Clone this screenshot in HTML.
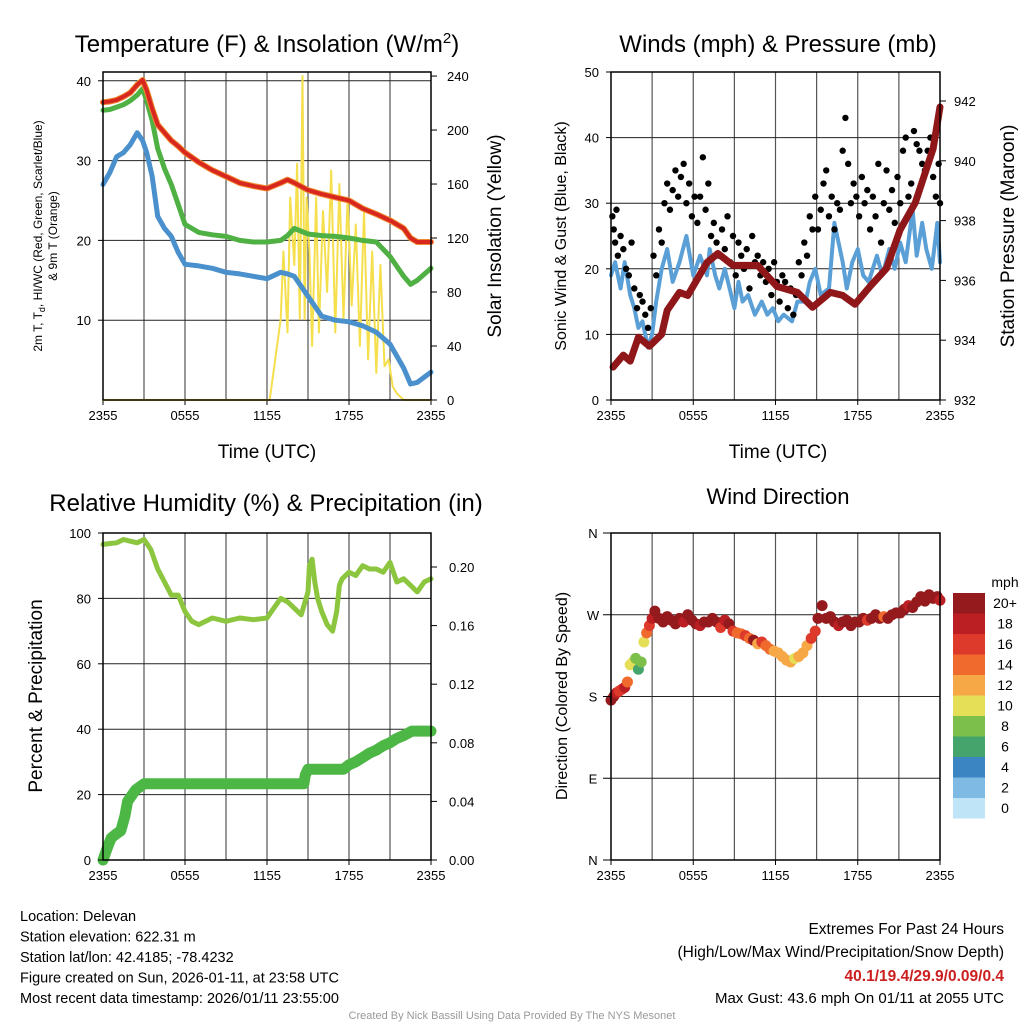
<!DOCTYPE html>
<html><head><meta charset="utf-8"><style>
html,body{margin:0;padding:0;background:#fff;}
svg{display:block;font-family:"Liberation Sans",sans-serif;}
</style></head><body>
<svg id="s" width="1024" height="1024" viewBox="0 0 1024 1024"></svg>
<script>
// ---- data ----
const xTicks = ["2355","0555","1155","1755","2355"];
// Temperature panel
const tT = [0,0.5,1,1.5,2,2.5,2.9,3.2,3.6,4,4.5,5,5.5,6,7,8,9,10,11,12,13,13.5,14,15,16,17,18,19,20,21,22,22.5,23,24];
const tempRed = [37.3,37.4,37.6,38,38.5,39.5,40.1,38.8,36.5,34.5,33.5,32.5,31.8,31,29.8,28.8,28,27.2,26.8,26.5,27.2,27.6,27.2,26.3,25.8,25.4,25,24,23.3,22.5,21.5,20.3,19.8,19.8];
const tempGreen = [36.3,36.4,36.7,37,37.5,38.2,39,37.5,35,31.5,29,27,24.5,22,21,20.7,20.5,20,19.8,19.8,20,20.6,21.5,20.8,20.6,20.5,20.3,20,19.8,18,15.5,14.5,15,16.5];
const tempBlue = [27,28.5,30.5,31,32,33.5,32.5,31,28,23,21.5,20.5,18.5,17,16.8,16.5,16,15.8,15.5,15.2,16,15.8,15.5,13,10.5,10,9.8,9.3,8.5,7,4,2,2.2,3.5];
const tS = [0,12.2,12.6,13,13.2,13.5,13.7,14,14.2,14.4,14.6,14.75,14.9,15.1,15.3,15.6,15.8,16.1,16.4,16.7,17,17.3,17.6,17.9,18.2,18.5,18.8,19.1,19.4,19.7,20,20.3,20.6,20.9,21.2,21.5,22,24];
const solar = [0,0,30,60,110,50,150,100,175,60,240,60,150,110,40,150,50,140,80,170,50,160,60,150,70,130,40,140,30,110,20,100,25,30,10,5,0,0];
const tempLeftTicks = [10,20,30,40];
const solarTicks = [0,40,80,120,160,200,240];
// Wind panel
const tW = [0,0.3,0.7,1,1.4,1.7,2,2.3,2.7,3,3.3,3.7,4.1,4.5,5,5.5,6,6.5,7,7.2,7.6,7.9,8.3,9,9.3,9.6,10,10.5,11,11.4,11.8,12.2,12.6,13.2,13.6,14.2,14.5,14.9,15.3,15.9,16.3,16.9,17.2,17.6,18,18.4,18.8,19.4,19.8,20.3,20.7,21.1,21.5,22,22.3,22.7,23,23.4,23.8,24];
const windAvg = [19,21,17,21,16,14,11,12,8,10,15,20,23,18,21,25,19,22,19,23,19,17,20,14,18,15,16,13,15,13,14,12,13,12,15,15,18,20,16,17,27,21,17,21,23,19,18,22,19,23,20,24,21,29,22,27,23,20,27,21];
const tG = [0.1,0.2,0.3,0.4,0.5,0.7,0.9,1.1,1.3,1.5,1.7,1.9,2.1,2.3,2.5,2.7,2.9,3.1,3.3,3.5,3.7,3.9,4.1,4.3,4.5,4.7,4.9,5.1,5.3,5.5,5.7,5.9,6.1,6.3,6.5,6.7,6.9,7.1,7.3,7.5,7.7,7.9,8.1,8.3,8.5,8.7,8.9,9.1,9.3,9.5,9.7,9.9,10.1,10.3,10.5,10.7,10.9,11.1,11.3,11.5,11.7,11.9,12.1,12.3,12.5,12.7,12.9,13.1,13.3,13.5,13.7,13.9,14.1,14.3,14.5,14.7,14.9,15.1,15.3,15.5,15.7,15.9,16.1,16.3,16.5,16.7,16.9,17.1,17.3,17.5,17.7,17.9,18.1,18.3,18.5,18.7,18.9,19.1,19.3,19.5,19.7,19.9,20.1,20.3,20.5,20.7,20.9,21.1,21.3,21.5,21.7,21.9,22.1,22.3,22.5,22.7,22.9,23.1,23.3,23.5,23.7,23.9,24];
const gust = [28,26,24,29,22,25,23,20,19,24,17,14,16,15,13,11,14,22,19,26,24,30,33,29,32,35,31,34,36,30,33,28,31,27,31,37,29,33,25,27,24,22,26,23,28,21,25,19,24,22,20,23,17,25,21,22,19,21,18,20,16,21,18,15,19,18,14,17,13,16,21,19,24,22,28,26,31,26,29,33,35,28,31,26,30,29,38,43,36,30,33,31,28,34,30,32,26,31,28,36,24,30,35,29,32,27,34,30,38,40,31,33,41,39,38,36,35,38,40,34,31,36,30,28,24];
const tP = [0.15,0.9,1.4,2.0,2.8,3.7,4.1,5.0,5.6,7.0,7.8,8.9,10.7,12.1,13.6,14.7,16.0,16.9,17.8,18.9,20.1,21.1,22.2,23.5,24];
const pressure = [933.1,933.5,933.3,934.1,933.8,934.2,935.0,935.6,935.5,936.6,936.9,936.5,936.5,935.8,935.6,935.1,935.6,935.5,935.2,935.8,936.4,937.7,938.6,940.4,941.8];
const windTicks = [0,10,20,30,40,50];
const presTicks = [932,934,936,938,940,942];
// RH / precip panel
const tR = [0,0.5,1,1.5,2,2.5,3,3.5,4,4.5,5,5.5,6,6.5,7,8,9,10,11,12,12.5,13,13.5,14,14.5,15,15.1,15.3,15.5,15.7,16,16.4,16.8,17.1,17.3,17.5,18,18.5,19,19.5,20,20.5,21,21.5,22,22.5,23,23.5,24];
const rh = [96.5,96.8,97,98,97.5,97,98,95,89,85,81,81,76,73,72,74,73,74,73.5,74,77,80,79,77,75,82,90,92,85,80,76,72,70,76,84,86,88,87,90,89,89,88,91,85,86,84,82,85,86];
const tPr = [0,0.3,0.6,1,1.3,1.6,1.8,2.1,2.4,2.7,3,14.7,14.8,15,17.6,18,18.5,19,19.5,20,20.5,21,21.5,22,22.6,24];
const precip = [0,0.008,0.015,0.018,0.02,0.03,0.04,0.044,0.048,0.05,0.052,0.052,0.058,0.062,0.062,0.065,0.067,0.07,0.073,0.075,0.078,0.08,0.083,0.085,0.088,0.088];
const rhTicks = [0,20,40,60,80,100];
const prTicks = ["0.00","0.04","0.08","0.12","0.16","0.20"];
// Wind direction panel
const tD = [0,0.2,0.4,0.6,0.8,1,1.2,1.4,1.6,1.8,2,2.2,2.4,2.6,2.8,3,3.2,3.5,3.8,4.1,4.4,4.7,5,5.3,5.6,5.9,6.2,6.5,6.8,7.1,7.4,7.7,8,8.3,8.6,8.9,9.2,9.5,9.8,10.1,10.4,10.7,11,11.3,11.6,11.9,12.2,12.5,12.8,13.1,13.4,13.7,14,14.3,14.6,14.9,15.1,15.4,15.7,16,16.3,16.6,16.9,17.2,17.5,17.8,18.1,18.4,18.7,19,19.3,19.6,19.9,20.2,20.5,20.8,21.1,21.4,21.7,22,22.3,22.6,22.9,23.2,23.5,23.8,24];
const dirDeg = [176,180,184,186,188,190,196,215,218,222,210,218,240,250,258,266,274,266,262,268,264,260,266,262,270,264,260,258,262,262,266,262,256,264,260,252,250,249,247,244,242,238,240,236,232,230,228,224,220,218,222,224,228,236,244,252,266,280,266,268,262,258,262,264,258,262,262,266,264,266,270,266,268,266,270,272,272,276,280,278,284,290,285,292,288,290,286];
const dirSpeed = [20,20,18,16,16,18,14,10,10,8,7,9,10,14,16,18,20,20,20,20,20,20,20,18,20,20,20,18,20,20,20,20,16,18,20,16,14,14,16,14,20,12,16,14,14,12,12,13,12,13,10,12,13,13,16,16,20,20,20,20,20,18,20,20,20,20,20,20,16,20,20,20,15,20,20,20,20,20,18,20,20,20,20,20,20,20,18];
const cbLabels = ["20+","18","16","14","12","10","8","6","4","2","0"];
const cbColors = ["#951a1d","#bb1f24","#dd3a2b","#ef6a2c","#f6a847","#e5df58","#7cbf4a","#45a46c","#3b86c2","#7ebae4","#bfe3f7"];

// ---- drawing ----
const NS="http://www.w3.org/2000/svg";
const svg=document.getElementById('s');
function el(tag,attrs,parent){const e=document.createElementNS(NS,tag);for(const k in attrs)e.setAttribute(k,attrs[k]);(parent||svg).appendChild(e);return e;}
function txt(x,y,s,size,anchor,parent,extra){const t=el('text',Object.assign({x:x,y:y,'font-size':size,'text-anchor':anchor||'middle',fill:'#000'},extra||{}),parent);t.textContent=s;return t;}
function lin(d0,d1,r0,r1){return v=>r0+(v-d0)/(d1-d0)*(r1-r0);}
function polyline(xs,ys,fx,fy,color,w,parent){let p=xs.map((x,i)=>fx(x).toFixed(1)+','+fy(ys[i]).toFixed(1)).join(' ');return el('polyline',{points:p,fill:'none',stroke:color,'stroke-width':w,'stroke-linejoin':'round','stroke-linecap':'round'},parent);}

function frame(x0,y0,x1,y1,hGrid,fy,name){
  const g=el('g',{});
  
  
  for(let h=3;h<24;h+=3){const x=x0+(x1-x0)*h/24;el('line',{x1:x,y1:y0,x2:x,y2:y1,stroke:'#555','stroke-width':1.2},g);}
  hGrid.forEach(v=>{const y=fy(v);el('line',{x1:x0,y1:y,x2:x1,y2:y,stroke:'#222','stroke-width':1},g);});
  xTicks.forEach((s,i)=>{const x=x0+(x1-x0)*i/4;el('line',{x1:x,y1:y1,x2:x,y2:y1+5,stroke:'#000'},g);txt(x,y1+20,s,13,'middle',g);});
  return g;
}
function border(x0,y0,x1,y1,name){const r=el('rect',{x:x0,y:y0,width:x1-x0,height:y1-y0,fill:'none',stroke:'#000','stroke-width':1.5});}

// Panel 1
(function(){
  const X0=103,X1=431,Y0=72,Y1=400;
  const fx=lin(0,24,X0,X1), fy=lin(0,41.1,Y1,Y0), fs=lin(0,243,Y1,Y0);
  frame(X0,Y0,X1,Y1,tempLeftTicks,fy,'temp');
  const g=el('g',{});
  
  
  const ys=polyline(tS,solar,fx,fs,'#f5df4d',2,g);
  
  const b=polyline(tT,tempBlue,fx,fy,'#4a90cc',5,g);
  
  const gr=polyline(tT,tempGreen,fx,fy,'#4fb043',5,g);
  
  const o=polyline(tT,tempRed,fx,fy,'#f08a30',6,g);
  
  const r=polyline(tT,tempRed,fx,fy,'#d8271f',4,g);
  
  border(X0,Y0,X1,Y1,'temp');
  tempLeftTicks.forEach(v=>{txt(X0-12,fy(v)+5,String(v),13,'end');el('line',{x1:X0-5,y1:fy(v),x2:X0,y2:fy(v),stroke:'#000'});});
  solarTicks.forEach(v=>{txt(X1+16,fs(v)+5,String(v),13,'start');el('line',{x1:X1,y1:fs(v),x2:X1+6,y2:fs(v),stroke:'#000'});});
  const t=txt(267,52,'',24);t.innerHTML='Temperature (F) &amp; Insolation (W/m<tspan dy="-9" font-size="15">2</tspan><tspan dy="9">)</tspan>';
  
  const xl=txt(267,458,'Time (UTC)',19);
  const yl=el('text',{transform:'translate(42,236) rotate(-90)','font-size':12,'text-anchor':'middle'});yl.innerHTML='2m T, T<tspan dy="3" font-size="9">d</tspan><tspan dy="-3">, HI/WC (Red, Green, Scarlet/Blue)</tspan>';
  
  const y2=el('text',{transform:'translate(57,236) rotate(-90)','font-size':12,'text-anchor':'middle'});y2.textContent='& 9m T (Orange)';
  
  const yr=el('text',{transform:'translate(501,236) rotate(-90)','font-size':19,'text-anchor':'middle'});yr.textContent='Solar Insolation (Yellow)';
  
})();

// Panel 2
(function(){
  const X0=611,X1=940,Y0=72,Y1=400;
  const fx=lin(0,24,X0,X1), fy=lin(0,50,Y1,Y0), fp=lin(932,942,Y1,101);
  frame(X0,Y0,X1,Y1,windTicks,fy,'wind');
  const g=el('g',{});
  
  
  const w=polyline(tW,windAvg,fx,fy,'#5a9fd6',4,g);
  
  tG.forEach((t,i)=>{const c=el('circle',{cx:fx(t),cy:fy(gust[i]),r:3.2,fill:'#000'},g);
    
  });
  const p=polyline(tP,pressure,fx,fp,'#8f1719',7,g);
  
  border(X0,Y0,X1,Y1,'wind');
  windTicks.forEach(v=>{txt(X0-12,fy(v)+5,String(v),13,'end');el('line',{x1:X0-5,y1:fy(v),x2:X0,y2:fy(v),stroke:'#000'});});
  presTicks.forEach(v=>{txt(X1+14,fp(v)+5,String(v),13,'start');el('line',{x1:X1,y1:fp(v),x2:X1+6,y2:fp(v),stroke:'#000'});});
  const t=txt(778,52,'Winds (mph) & Pressure (mb)',24);
  const xl=txt(778,458,'Time (UTC)',19);
  const yl=el('text',{transform:'translate(566,236) rotate(-90)','font-size':16,'text-anchor':'middle'});yl.textContent='Sonic Wind & Gust (Blue, Black)';
  
  const yr=el('text',{transform:'translate(1014,236) rotate(-90)','font-size':19,'text-anchor':'middle'});yr.textContent='Station Pressure (Maroon)';
  
})();

// Panel 3
(function(){
  const X0=103,X1=431,Y0=533,Y1=860;
  const fx=lin(0,24,X0,X1), fy=lin(0,100,Y1,Y0), fp=lin(0,0.2,Y1,567);
  frame(X0,Y0,X1,Y1,rhTicks.slice(1,5),fy,'rh');
  const g=el('g',{});
  
  
  const p=polyline(tPr,precip,fx,fp,'#4db745',11,g);
  
  const r=polyline(tR,rh,fx,fy,'#8cc63f',5,g);
  
  border(X0,Y0,X1,Y1,'rh');
  rhTicks.forEach(v=>{txt(X0-12,fy(v)+5,String(v),13,'end');el('line',{x1:X0-5,y1:fy(v),x2:X0,y2:fy(v),stroke:'#000'});});
  prTicks.forEach(s=>{const v=parseFloat(s);txt(X1+18,fp(v)+5,s,13,'start');el('line',{x1:X1,y1:fp(v),x2:X1+6,y2:fp(v),stroke:'#000'});});
  const t=txt(266,511,'Relative Humidity (%) & Precipitation (in)',24);
  const yl=el('text',{transform:'translate(42,696) rotate(-90)','font-size':19,'text-anchor':'middle'});yl.textContent='Percent & Precipitation';
  
})();

// Panel 4
(function(){
  const X0=611,X1=940,Y0=533,Y1=860;
  const fx=lin(0,24,X0,X1), fy=lin(0,360,Y1,Y0);
  frame(X0,Y0,X1,Y1,[90,180,270],fy,'dir');
  const g=el('g',{});
  
  
  function col(s){let i=Math.round(10-Math.min(20,s)/2);return cbColors[i];}
  tD.forEach((t,i)=>{const c=el('circle',{cx:fx(t),cy:fy(dirDeg[i]),r:5.5,fill:col(dirSpeed[i])},g);
    
  });
  border(X0,Y0,X1,Y1,'dir');
  ["N","E","S","W","N"].forEach((s,i)=>{const y=fy(i*90);txt(X0-18,y+5,s,13,'middle');el('line',{x1:X0-8,y1:y,x2:X0,y2:y,stroke:'#000'});});
  const t=txt(778,504,'Wind Direction',22);
  const yl=el('text',{transform:'translate(567,696) rotate(-90)','font-size':16,'text-anchor':'middle'});yl.textContent='Direction (Colored By Speed)';
  
  const cb=el('g',{});
  
  
  txt(1005,587,'mph',14,'middle',cb);
  cbColors.forEach((c,i)=>{const y=593+i*20.5;el('rect',{x:953,y:y,width:32,height:20.5,fill:c},cb);txt(1005,y+15,cbLabels[i],14,'middle',cb);});
})();

// Footer
(function(){
  const g=el('g',{});
  
  
  ["Location: Delevan","Station elevation: 622.31 m","Station lat/lon: 42.4185; -78.4232","Figure created on Sun, 2026-01-11, at 23:58 UTC","Most recent data timestamp: 2026/01/11 23:55:00"].forEach((s,i)=>txt(20,921+i*20.5,s,14.5,'start',g));
  const h=el('g',{});
  
  
  txt(1004,934,'Extremes For Past 24 Hours',15.5,'end',h);
  txt(1004,957,'(High/Low/Max Wind/Precipitation/Snow Depth)',15.5,'end',h);
  txt(1004,981,'40.1/19.4/29.9/0.09/0.4',15.5,'end',h,{fill:'#cc1f1f','font-weight':'bold'});
  txt(1004,1003,'Max Gust: 43.6 mph On 01/11 at 2055 UTC',15,'end',h);
  const c=txt(512,1019,'Created By Nick Bassill Using Data Provided By The NYS Mesonet',11,'middle',null,{fill:'#999'});
  
})();
</script>
</body></html>
